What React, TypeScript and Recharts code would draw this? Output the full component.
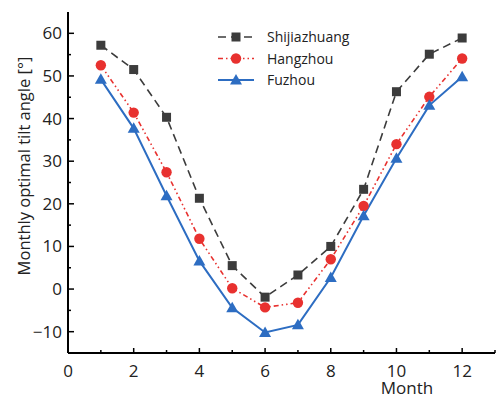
import { LineChart, Line, XAxis, YAxis, Legend } from 'recharts'

const months = [1, 2, 3, 4, 5, 6, 7, 8, 9, 10, 11, 12]
const shijiazhuang = [57.2, 51.5, 40.3, 21.3, 5.5, -1.9, 3.3, 10.0, 23.4, 46.3, 55.1, 58.9]
const hangzhou = [52.5, 41.4, 27.4, 11.8, 0.2, -4.3, -3.2, 7.0, 19.5, 34.0, 45.1, 54.1]
const fuzhou = [49.2, 37.7, 21.9, 6.6, -4.4, -10.2, -8.4, 2.7, 17.2, 30.7, 43.1, 49.8]

const xTicks = [0, 1, 2, 3, 4, 5, 6, 7, 8, 9, 10, 11, 12, 13]
const yTicks = [-10, -5, 0, 5, 10, 15, 20, 25, 30, 35, 40, 45, 50, 55, 60]

const FONT = '"Open Sans", sans-serif'
const GRAY = '#3c3c3c'
const RED = '#e8312f'
const BLUE = '#2d6dc2'

const data = months.map((m, i) => ({
  month: m,
  shijiazhuang: shijiazhuang[i],
  hangzhou: hangzhou[i],
  fuzhou: fuzhou[i],
}))

const series = [
  { key: 'shijiazhuang', name: 'Shijiazhuang', color: GRAY, dash: '8 5', width: 1.6, shape: 'square' },
  { key: 'hangzhou', name: 'Hangzhou', color: RED, dash: '5 3 1.5 3 1.5 3', width: 1.6, shape: 'circle' },
  { key: 'fuzhou', name: 'Fuzhou', color: BLUE, dash: undefined, width: 2, shape: 'triangle' },
]

function Marker({ cx, cy, shape, color }: any) {
  if (cx == null || cy == null) return null
  if (shape === 'square') return <rect x={cx - 4.5} y={cy - 4.5} width={9} height={9} fill={color} />
  if (shape === 'circle') return <circle cx={cx} cy={cy} r={5.2} fill={color} />
  return <path d={`M${cx},${cy - 6} L${cx + 6},${cy + 4.5} L${cx - 6},${cy + 4.5} Z`} fill={color} />
}

function BottomTick({ x, y, payload }: any) {
  const v = payload.value
  const major = v % 2 === 0
  return (
    <g>
      <line x1={x} x2={x} y1={y} y2={y - (major ? 5 : 3)} stroke="#000" strokeWidth={1.5} />
      {major && (
        <text x={x} y={y + 24} textAnchor="middle" fontFamily={FONT} fontSize={17} fill="#222">
          {v}
        </text>
      )}
    </g>
  )
}

function TopTick({ x, y, payload }: any) {
  const major = payload.value % 2 === 0
  return <line x1={x} x2={x} y1={y} y2={y + (major ? 5 : 3)} stroke="#000" strokeWidth={1.5} />
}

function LeftTick({ x, y, payload }: any) {
  const v = payload.value
  const major = v % 10 === 0
  return (
    <g>
      <line x1={x} x2={x + (major ? 6 : 3)} y1={y} y2={y} stroke="#000" strokeWidth={1.5} />
      {major && (
        <text x={x - 6} y={y + 6} textAnchor="end" fontFamily={FONT} fontSize={17} fill="#222">
          {v < 0 ? `\u2212${Math.abs(v)}` : v}
        </text>
      )}
    </g>
  )
}

function RightTick({ x, y, payload }: any) {
  const major = payload.value % 10 === 0
  return <line x1={x} x2={x - (major ? 6 : 3)} y1={y} y2={y} stroke="#000" strokeWidth={1.5} />
}

function LegendBox() {
  return (
    <svg width={160} height={66} style={{ display: 'block' }}>
      {series.map((s, i) => {
        const y = 11 + i * 21.5
        return (
          <g key={s.key}>
            <line x1={0} x2={36} y1={y} y2={y} stroke={s.color} strokeWidth={s.width} strokeDasharray={s.dash} />
            <Marker cx={18} cy={y} shape={s.shape} color={s.color} />
            <text x={49} y={y + 5} fontFamily={FONT} fontSize={14} fill="#222">
              {s.name}
            </text>
          </g>
        )
      })}
    </svg>
  )
}

export default function App() {
  return (
    <div style={{ position: 'absolute', left: 0, top: 0, background: '#fff' }}>
      <LineChart width={496} height={398} data={data} margin={{ top: 12, right: 1, bottom: 0, left: 0 }}>
        <XAxis
          dataKey="month"
          type="number"
          domain={[0, 13]}
          ticks={xTicks}
          interval={0}
          height={45}
          tickSize={0}
          tickMargin={0}
          tickLine={false}
          tick={<BottomTick />}
          axisLine={{ stroke: '#000', strokeWidth: 2 }}
          label={{
            content: () => (
              <text x={407} y={394} textAnchor="middle" fontFamily={FONT} fontSize={17} fill="#222">
                Month
              </text>
            ),
          }}
        />
        <XAxis
          xAxisId="top"
          orientation="top"
          dataKey="month"
          type="number"
          domain={[0, 13]}
          ticks={xTicks}
          interval={0}
          height={0}
          tickSize={0}
          tickMargin={0}
          tickLine={false}
          tick={<TopTick />}
          axisLine={{ stroke: '#000', strokeWidth: 2 }}
        />
        <YAxis
          type="number"
          domain={[-15, 65]}
          ticks={yTicks}
          interval={0}
          width={68}
          tickSize={0}
          tickMargin={0}
          tickLine={false}
          tick={<LeftTick />}
          axisLine={{ stroke: '#000', strokeWidth: 2 }}
          label={{
            content: () => (
              <text
                x={23}
                y={166}
                transform="rotate(-90 23 166)"
                textAnchor="middle"
                dominantBaseline="central"
                fontFamily={FONT}
                fontSize={16.5}
                fill="#222"
              >
                Monthly optimal tilt angle [°]
              </text>
            ),
          }}
        />
        <YAxis
          yAxisId="right"
          orientation="right"
          type="number"
          domain={[-15, 65]}
          ticks={yTicks}
          interval={0}
          width={0}
          tickSize={0}
          tickMargin={0}
          tickLine={false}
          tick={<RightTick />}
          axisLine={{ stroke: '#000', strokeWidth: 2 }}
        />
        <Legend
          layout="vertical"
          verticalAlign="middle"
          align="center"
          wrapperStyle={{ left: 218, top: 26, width: 160 }}
          content={<LegendBox />}
        />
        {series.map((s) => (
          <Line
            key={s.key}
            dataKey={s.key}
            name={s.name}
            stroke={s.color}
            strokeWidth={s.width}
            strokeDasharray={s.dash}
            dot={(p: any) => <Marker key={`${s.key}-${p.index}`} cx={p.cx} cy={p.cy} shape={s.shape} color={s.color} />}
            activeDot={false}
            isAnimationActive={false}
          />
        ))}
      </LineChart>
    </div>
  )
}
